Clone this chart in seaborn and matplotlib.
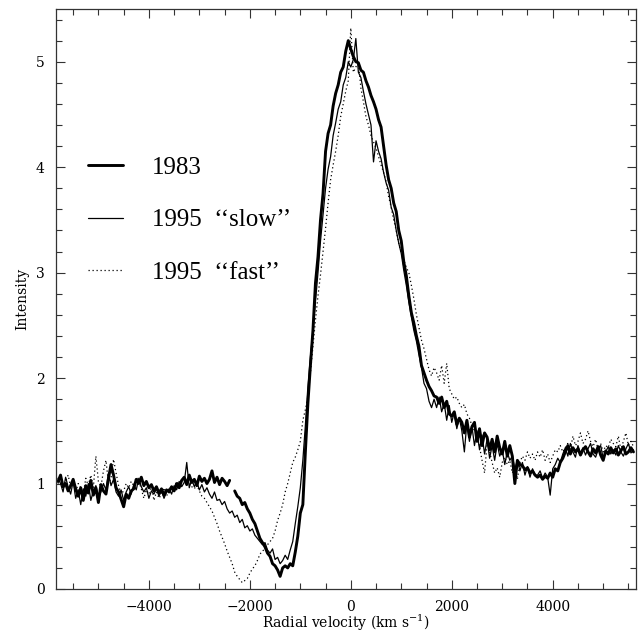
import numpy as np
import pandas as pd
import matplotlib
matplotlib.use("Agg")
import matplotlib.pyplot as plt
from matplotlib.ticker import MultipleLocator
import seaborn as sns

# Velocity grid of the spectra (km/s), 50 km/s sampling
velocity = np.arange(-5800, 5601, 50)

series_labels = ["1983", "1995  \u2018\u2018slow\u2019\u2019", "1995  \u2018\u2018fast\u2019\u2019"]

# 1983 profile (NaN marks the gap in the data)
intensity_1983 = [
    1.02, 1.08, 0.97, 1.00, 0.93, 0.98, 1.04, 0.95, 0.88, 0.96,
    0.84, 0.98, 0.91, 1.03, 0.89, 0.96, 0.82, 0.99, 0.93, 0.90,
    1.05, 1.18, 1.08, 0.96, 0.92, 0.85, 0.78, 0.90, 0.86, 0.93,
    0.95, 1.04, 1.00, 1.06, 0.98, 1.02, 0.96, 0.99, 0.93, 0.97,
    0.91, 0.95, 0.89, 0.94, 0.92, 0.97, 0.93, 1.00, 0.96, 1.03,
    1.06, 0.99, 1.08, 1.01, 1.04, 0.98, 1.07, 1.02, 1.05, 1.00,
    1.04, 1.12, 1.01, 1.06, 0.99, 1.05, 1.02, 0.98, 1.03, np.nan,
    0.93, 0.88, 0.86, 0.80, 0.82, 0.76, 0.72, 0.66, 0.62, 0.55,
    0.48, 0.44, 0.40, 0.34, 0.31, 0.24, 0.22, 0.18, 0.12, 0.20,
    0.22, 0.20, 0.24, 0.22, 0.35, 0.50, 0.72, 0.80, 1.30, 1.76,
    2.12, 2.45, 2.90, 3.15, 3.50, 3.75, 4.15, 4.32, 4.40, 4.58,
    4.70, 4.78, 4.90, 4.95, 5.10, 5.20, 5.12, 5.05, 5.00, 4.99,
    4.92, 4.90, 4.82, 4.76, 4.68, 4.62, 4.55, 4.45, 4.38, 4.20,
    4.02, 3.88, 3.80, 3.66, 3.58, 3.40, 3.30, 3.10, 2.97, 2.78,
    2.62, 2.52, 2.40, 2.30, 2.12, 2.05, 1.98, 1.92, 1.88, 1.83,
    1.82, 1.76, 1.82, 1.72, 1.78, 1.66, 1.64, 1.68, 1.56, 1.62,
    1.58, 1.48, 1.60, 1.44, 1.54, 1.58, 1.40, 1.52, 1.36, 1.48,
    1.44, 1.32, 1.42, 1.30, 1.45, 1.34, 1.28, 1.40, 1.26, 1.36,
    1.26, 1.00, 1.22, 1.18, 1.17, 1.13, 1.15, 1.10, 1.12, 1.08,
    1.06, 1.08, 1.04, 1.07, 1.05, 1.10, 1.06, 1.14, 1.12, 1.20,
    1.24, 1.30, 1.36, 1.28, 1.34, 1.30, 1.33, 1.27, 1.32, 1.35,
    1.30, 1.26, 1.33, 1.29, 1.35, 1.27, 1.22, 1.31, 1.28, 1.34,
    1.29, 1.33, 1.27, 1.31, 1.35, 1.28, 1.30, 1.34, 1.30,
]

# 1995 "slow" profile
intensity_1995_slow = [
    1.05, 1.00, 0.92, 1.06, 0.97, 0.90, 1.02, 0.86, 0.94, 0.80,
    0.95, 0.88, 1.00, 0.84, 0.93, 0.98, 0.87, 0.92, 1.00, 0.94,
    1.10, 0.98, 1.04, 0.92, 0.88, 0.94, 0.84, 0.92, 0.97, 0.90,
    0.99, 0.94, 1.05, 0.97, 0.92, 0.96, 0.86, 0.93, 0.90, 0.95,
    0.88, 0.93, 0.86, 0.92, 0.95, 0.90, 0.98, 0.94, 1.02, 0.97,
    1.01, 1.20, 0.96, 1.04, 0.97, 1.02, 0.94, 0.99, 0.92, 0.96,
    0.90, 0.86, 0.92, 0.84, 0.85, 0.80, 0.83, 0.76, 0.72, 0.74,
    0.68, 0.70, 0.63, 0.66, 0.58, 0.60, 0.55, 0.57, 0.51, 0.48,
    0.45, 0.42, 0.44, 0.37, 0.34, 0.38, 0.28, 0.30, 0.24, 0.27,
    0.32, 0.28, 0.37, 0.45, 0.62, 0.78, 0.96, 1.22, 1.55, 1.92,
    2.20, 2.45, 2.72, 3.00, 3.30, 3.55, 3.80, 3.98, 4.10, 4.30,
    4.42, 4.55, 4.62, 4.78, 4.85, 5.00, 4.95, 5.02, 5.22, 4.90,
    4.85, 4.72, 4.60, 4.50, 4.40, 4.05, 4.25, 4.15, 4.08, 3.95,
    3.85, 3.78, 3.62, 3.55, 3.40, 3.28, 3.18, 3.02, 2.88, 2.72,
    2.58, 2.45, 2.35, 2.22, 2.10, 1.95, 1.90, 1.78, 1.72, 1.80,
    1.72, 1.82, 1.68, 1.76, 1.60, 1.74, 1.58, 1.68, 1.52, 1.62,
    1.50, 1.30, 1.58, 1.40, 1.54, 1.36, 1.50, 1.32, 1.46, 1.28,
    1.42, 1.24, 1.36, 1.22, 1.38, 1.26, 1.32, 1.18, 1.30, 1.22,
    1.26, 1.14, 1.22, 1.12, 1.20, 1.08, 1.16, 1.06, 1.14, 1.08,
    1.08, 1.12, 1.05, 1.10, 1.06, 0.89, 1.14, 1.18, 1.24, 1.20,
    1.28, 1.34, 1.26, 1.38, 1.30, 1.25, 1.36, 1.29, 1.34, 1.27,
    1.33, 1.38, 1.28, 1.25, 1.32, 1.36, 1.24, 1.30, 1.35, 1.28,
    1.32, 1.27, 1.36, 1.30, 1.26, 1.33, 1.38, 1.29, 1.32,
]

# 1995 "fast" profile
intensity_1995_fast = [
    1.00, 1.06, 0.95, 1.02, 1.08, 0.97, 1.03, 0.92, 1.00, 0.96,
    0.90, 1.05, 0.98, 1.08, 0.96, 1.26, 1.02, 0.97, 1.12, 1.22,
    1.00, 1.05, 1.23, 1.10, 0.98, 0.90, 0.93, 1.00, 0.96, 1.02,
    0.98, 1.06, 1.02, 0.95, 0.86, 0.94, 0.90, 0.98, 0.84, 0.92,
    0.86, 0.90, 0.96, 0.88, 0.94, 0.98, 0.95, 1.02, 0.98, 1.04,
    1.05, 1.00, 1.02, 0.97, 0.95, 0.99, 0.93, 0.88, 0.86, 0.82,
    0.78, 0.74, 0.68, 0.62, 0.55, 0.49, 0.43, 0.36, 0.30, 0.24,
    0.16, 0.12, 0.09, 0.06, 0.08, 0.10, 0.15, 0.19, 0.22, 0.27,
    0.33, 0.36, 0.38, 0.42, 0.45, 0.48, 0.55, 0.65, 0.72, 0.80,
    0.92, 1.00, 1.10, 1.20, 1.25, 1.32, 1.40, 1.60, 1.70, 1.82,
    2.05, 2.30, 2.55, 2.78, 2.98, 3.20, 3.42, 3.66, 3.88, 4.02,
    4.15, 4.30, 4.48, 4.60, 4.72, 4.82, 5.32, 4.90, 4.95, 5.00,
    4.75, 4.62, 4.48, 4.40, 4.30, 4.24, 4.18, 4.10, 4.02, 3.95,
    3.86, 3.72, 3.62, 3.50, 3.40, 3.28, 3.18, 3.12, 3.05, 3.00,
    2.88, 2.75, 2.60, 2.48, 2.36, 2.28, 2.18, 2.08, 2.02, 2.10,
    2.05, 1.98, 2.12, 1.95, 2.14, 1.90, 1.85, 1.80, 1.82, 1.76,
    1.72, 1.75, 1.66, 1.62, 1.55, 1.50, 1.45, 1.35, 1.22, 1.10,
    1.38, 1.30, 1.20, 1.10, 1.15, 1.06, 1.20, 1.25, 1.18, 1.22,
    1.10, 1.16, 1.04, 1.20, 1.26, 1.22, 1.30, 1.24, 1.28, 1.22,
    1.30, 1.25, 1.32, 1.22, 1.28, 1.20, 1.26, 1.32, 1.30, 1.36,
    1.30, 1.34, 1.38, 1.32, 1.45, 1.36, 1.40, 1.48, 1.38, 1.42,
    1.50, 1.40, 1.35, 1.42, 1.32, 1.38, 1.30, 1.36, 1.34, 1.42,
    1.38, 1.35, 1.45, 1.32, 1.40, 1.48, 1.36, 1.40, 1.35,
]

x_ticks_major, x_ticks_minor = 2000, 500
y_ticks_major, y_ticks_minor = 1, 0.2

sns.set_theme(style="ticks")
plt.rcParams["font.family"] = ["DejaVu Serif"]
plt.rcParams["mathtext.fontset"] = "custom"
plt.rcParams["mathtext.rm"] = "DejaVu Serif"
plt.rcParams["mathtext.default"] = "regular"

fig = plt.figure(figsize=(6.4, 6.35), dpi=100)
ax = fig.add_axes([56 / 640, 46 / 635, 580 / 640, 580 / 635])

frames = {}
for label, values in zip(series_labels,
                         [intensity_1983, intensity_1995_slow, intensity_1995_fast]):
    df = pd.DataFrame({"velocity": velocity, "intensity": values})
    df["segment"] = df["intensity"].isna().cumsum()
    frames[label] = df.dropna()

styles = {
    series_labels[0]: dict(linewidth=2.1, linestyle="-"),
    series_labels[1]: dict(linewidth=0.9, linestyle="-"),
    series_labels[2]: dict(linewidth=0.9, linestyle=(0, (1, 2.2))),
}

handles = []
for label in series_labels:
    df = frames[label]
    first = True
    for _, seg in df.groupby("segment"):
        sns.lineplot(data=seg, x="velocity", y="intensity", ax=ax,
                     color="black", estimator=None, errorbar=None,
                     sort=True, **styles[label])
        if first:
            handles.append(ax.get_lines()[-1])
            first = False

ax.set_xlim(-5840, 5650)
ax.set_ylim(0, 5.5)
ax.xaxis.set_major_locator(MultipleLocator(x_ticks_major))
ax.xaxis.set_minor_locator(MultipleLocator(x_ticks_minor))
ax.yaxis.set_major_locator(MultipleLocator(y_ticks_major))
ax.yaxis.set_minor_locator(MultipleLocator(y_ticks_minor))
ax.tick_params(which="both", direction="in", top=True, right=True,
               width=0.8, color="#333333", labelsize=10, pad=8,
               labelcolor="black")
ax.tick_params(which="major", length=6.5)
ax.tick_params(which="minor", length=4)
for sp in ax.spines.values():
    sp.set_linewidth(0.9)
    sp.set_color("#333333")

ax.set_xlabel("Radial velocity (km s$^{-1}$)", fontsize=10, labelpad=-1,
              color="black")
ax.set_ylabel("Intensity", fontsize=10, labelpad=5, color="black")

ax.legend(handles, series_labels, loc="center left",
          bbox_to_anchor=(32 / 580, (589 - 220) / 580),
          frameon=False, borderpad=0, borderaxespad=0,
          handlelength=1.4, handletextpad=1.16, labelspacing=1.21,
          labelcolor="black",
          prop={"family": "Liberation Serif", "size": 18})

fig.savefig("out.png", dpi=100)
